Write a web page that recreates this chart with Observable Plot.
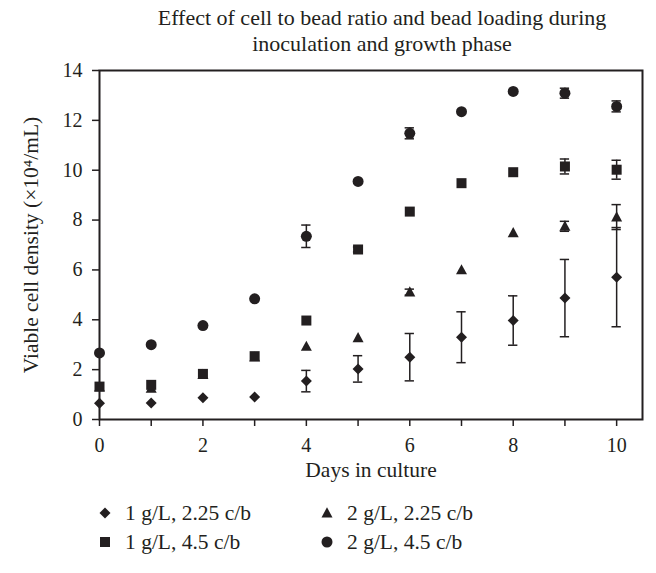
<!DOCTYPE html>
<html><head><meta charset="utf-8">
<script src="https://cdn.jsdelivr.net/npm/d3@7"></script>
<script src="https://cdn.jsdelivr.net/npm/@observablehq/plot@0.6"></script>
<style>
body{margin:0;background:#fff;font-family:"Liberation Serif",serif;color:#231f20;}
#wrap{width:656px;height:573px;position:relative;overflow:hidden;}
#title{height:56px;padding-top:5px;box-sizing:border-box;text-align:center;font-size:22px;line-height:26px;padding-left:108px;}
#chart svg{display:block;overflow:visible;}
.leg{position:absolute;font-size:21.5px;line-height:28px;height:28px;display:flex;align-items:center;white-space:nowrap;}
.leg svg{width:16px;height:16px;margin-right:12px;}
</style></head>
<body><div id="wrap">
<div id="title">Effect of cell to bead ratio and bead loading during<br>inoculation and growth phase</div>
<div id="chart"></div>
<div id="legend"></div>
</div>
<script>
// ---- data ----
const days = [0, 1, 2, 3, 4, 5, 6, 7, 8, 9, 10];
const seriesNames = ["1 g/L, 2.25 c/b", "1 g/L, 4.5 c/b", "2 g/L, 2.25 c/b", "2 g/L, 4.5 c/b"];
const mean1g225 = [0.65, 0.66, 0.87, 0.90, 1.54, 2.03, 2.50, 3.30, 3.97, 4.87, 5.71];
const err1g225  = [0, 0, 0, 0, 0.43, 0.53, 0.95, 1.02, 0.99, 1.55, 1.99];
const mean1g45  = [1.32, 1.39, 1.83, 2.54, 3.97, 6.82, 8.34, 9.48, 9.92, 10.15, 10.02];
const err1g45   = [0, 0, 0, 0, 0, 0.1, 0, 0, 0, 0.3, 0.38];
const mean2g225 = [1.30, 1.25, 1.80, 2.50, 2.93, 3.28, 5.11, 6.00, 7.49, 7.75, 8.12];
const err2g225  = [0, 0, 0, 0, 0, 0, 0.12, 0, 0, 0.2, 0.5];
const mean2g45  = [2.67, 3.00, 3.77, 4.84, 7.35, 9.55, 11.48, 12.35, 13.16, 13.09, 12.56];
const err2g45   = [0, 0, 0, 0, 0.45, 0, 0.22, 0, 0, 0.2, 0.22];
const xTicks = [0, 1, 2, 3, 4, 5, 6, 7, 8, 9, 10];
const yTicks = [0, 2, 4, 6, 8, 10, 12, 14];

const ink = "#231f20";
const font = "Liberation Serif";

// ---- symbols ----
const symDiamond = {draw(c, size){ const s = Math.sqrt(size/Math.PI); c.moveTo(0,-s); c.lineTo(s,0); c.lineTo(0,s); c.lineTo(-s,0); c.closePath(); }};
const symSquare = {draw(c, size){ const s = Math.sqrt(size/Math.PI)*0.91; c.rect(-s,-s,2*s,2*s); }};
const symTriangle = {draw(c, size){ const s = Math.sqrt(size/Math.PI); c.moveTo(0,-s*1.05); c.lineTo(s,s*0.8); c.lineTo(-s,s*0.8); c.closePath(); }};
const symCircle = {draw(c, size){ const s = Math.sqrt(size/Math.PI); c.moveTo(s,0); c.arc(0,0,s,0,2*Math.PI); }};

const series = [
  {name: seriesNames[2], mean: mean2g225, err: err2g225, sym: symTriangle},
  {name: seriesNames[1], mean: mean1g45, err: err1g45, sym: symSquare},
  {name: seriesNames[3], mean: mean2g45, err: err2g45, sym: symCircle},
  {name: seriesNames[0], mean: mean1g225, err: err1g225, sym: symDiamond}
];

const marks = [];
for (const s of series) {
  const rows = days.map((d, i) => ({day: d, v: s.mean[i], e: s.err[i]}));
  const withErr = rows.filter(r => r.e > 0);
  marks.push(Plot.ruleX(withErr, {x: "day", y1: r => r.v - r.e, y2: r => r.v + r.e, stroke: ink, strokeWidth: 1.5}));
  marks.push(Plot.ruleY(withErr, {y: r => r.v - r.e, x1: r => r.day - 0.09, x2: r => r.day + 0.09, stroke: ink, strokeWidth: 1.5}));
  marks.push(Plot.ruleY(withErr, {y: r => r.v + r.e, x1: r => r.day - 0.09, x2: r => r.day + 0.09, stroke: ink, strokeWidth: 1.5}));
  marks.push(Plot.dot(rows, {x: "day", y: "v", symbol: s.sym, r: 5.5, fill: ink, stroke: "none"}));
}

const chart = Plot.plot({
  width: 656,
  height: 440,
  marginTop: 14,
  marginRight: 14,
  marginLeft: 99,
  marginBottom: 77,
  style: {fontFamily: font, fontSize: "20px", color: ink, background: "#fff", overflow: "visible"},
  x: {domain: [0, 10.5]},
  y: {domain: [0, 14]},
  marks: [
    Plot.axisX({ticks: xTicks, tickFormat: d => (d % 2 ? "" : String(d)), tickSize: 7, tickPadding: 11, stroke: ink, strokeWidth: 1.5, label: null, fontSize: 20}),
    Plot.axisY({ticks: yTicks, tickFormat: d => String(d), tickSize: 7, tickPadding: 10, stroke: ink, strokeWidth: 1.5, label: null, fontSize: 20}),
    Plot.frame({stroke: ink, strokeWidth: 2}),
    Plot.text(["Days in culture"], {text: d => d, frameAnchor: "bottom", textAnchor: "middle", dy: 57, fontSize: 21.5, fill: ink}),
    Plot.text(["Viable cell density (×10⁴/mL)"], {text: d => d, frameAnchor: "left", textAnchor: "middle", rotate: -90, dx: -68, fontSize: 21.5, fill: ink}),
    ...marks
  ]
});
document.getElementById("chart").appendChild(chart);

// ---- legend ----
const legendItems = [
  {name: seriesNames[0], sym: symDiamond, left: 97, top: 499},
  {name: seriesNames[2], sym: symTriangle, left: 319, top: 499},
  {name: seriesNames[1], sym: symSquare, left: 97, top: 528},
  {name: seriesNames[3], sym: symCircle, left: 319, top: 528}
];
const legend = document.getElementById("legend");
for (const it of legendItems) {
  const div = document.createElement("div");
  div.className = "leg";
  div.style.left = it.left + "px";
  div.style.top = it.top + "px";
  const p = d3.path(); it.sym.draw(p, Math.PI * 5.5 * 5.5);
  div.innerHTML = `<svg viewBox="-8 -8 16 16"><path d="${p.toString()}" fill="${ink}"/></svg><span>${it.name}</span>`;
  legend.appendChild(div);
}
</script>
</body></html>
